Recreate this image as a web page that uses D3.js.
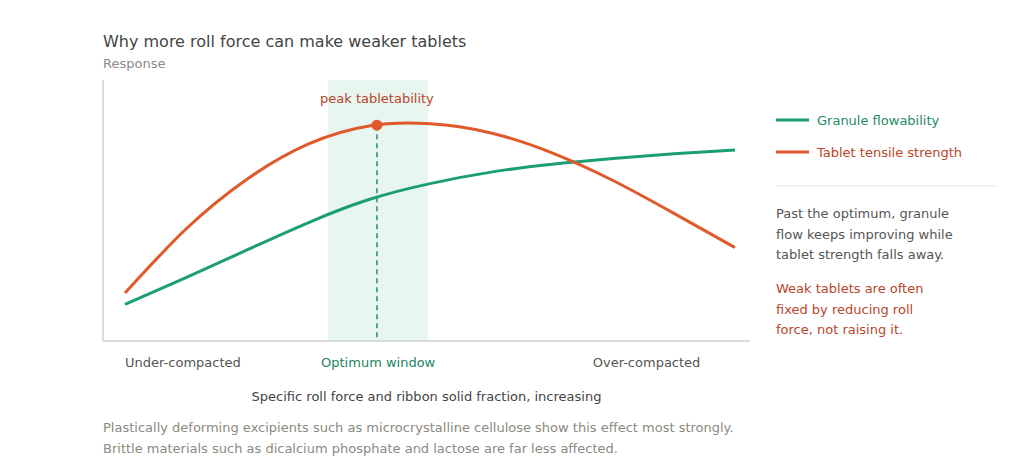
<!DOCTYPE html>
<html>
<head>
<meta charset="utf-8">
<script src="https://cdn.jsdelivr.net/npm/d3@7"></script>
<style>
  body { margin: 0; background: #fff; font-family: "DejaVu Sans", sans-serif; }
</style>
</head>
<body>
<div id="chart"></div>
<script>
var width = 1024, height = 471;

// x runs 0..10 (increasing roll force), y is relative response 0..100
var xs = [0, 1, 2, 3, 4, 5, 6, 7, 8, 9, 10];
var flowability = [14.0, 24.3, 34.9, 45.3, 54.2, 60.3, 64.7, 67.7, 69.9, 71.7, 73.2];
var tensile = [18.4, 42.9, 62.0, 75.4, 82.4, 83.2, 79.7, 72.1, 61.5, 48.9, 35.8];
var seriesNames = ["Granule flowability", "Tablet tensile strength"];
var windowRange = [3.33, 4.97];
var peak = [4.13, 82.7];
var zoneLabels = ["Under-compacted", "Optimum window", "Over-compacted"];
var zonePos = [0.95, 4.15, 8.55];
var noteGrey = ["Past the optimum, granule", "flow keeps improving while", "tablet strength falls away."];
var noteRed = ["Weak tablets are often", "fixed by reducing roll", "force, not raising it."];
var footnote = ["Plastically deforming excipients such as microcrystalline cellulose show this effect most strongly.",
  "Brittle materials such as dicalcium phosphate and lactose are far less affected."];

var green = "#1b9e77", orange = "#e0592a", redText = "#b8452a";

var svg = d3.select("#chart").append("svg")
  .attr("width", width)
  .attr("height", height);

var x = d3.scaleLinear().domain([0, 10]).range([125, 735]);
var y = d3.scaleLinear().domain([0, 100]).range([341, 80]);

// title
svg.append("text").attr("x", 103).attr("y", 47)
  .attr("font-size", 16).attr("fill", "#444")
  .text("Why more roll force can make weaker tablets");
svg.append("text").attr("x", 103).attr("y", 68)
  .attr("font-size", 13).attr("fill", "#8a8a8a")
  .text("Response");

// optimum window
svg.append("rect")
  .attr("x", x(windowRange[0])).attr("y", y(100))
  .attr("width", x(windowRange[1]) - x(windowRange[0]))
  .attr("height", y(0) - y(100))
  .attr("fill", "#e8f6f0");

// axes frame
svg.append("line").attr("x1", 103).attr("x2", 103).attr("y1", y(100)).attr("y2", y(0))
  .attr("stroke", "#cfcfcf").attr("stroke-width", 1.5);
svg.append("line").attr("x1", 103).attr("x2", 750).attr("y1", y(0)).attr("y2", y(0))
  .attr("stroke", "#cfcfcf").attr("stroke-width", 1.5);

// dashed marker at peak
svg.append("line")
  .attr("x1", x(peak[0])).attr("x2", x(peak[0]))
  .attr("y1", y(peak[1])).attr("y2", y(0))
  .attr("stroke", "#2f8a68").attr("stroke-width", 1.5)
  .attr("stroke-dasharray", "5,4");

var line = d3.line()
  .x(function(d) { return x(d[0]); })
  .y(function(d) { return y(d[1]); })
  .curve(d3.curveNatural);

svg.append("path")
  .datum(d3.zip(xs, flowability))
  .attr("d", line)
  .attr("fill", "none").attr("stroke", green).attr("stroke-width", 3);

svg.append("path")
  .datum(d3.zip(xs, tensile))
  .attr("d", line)
  .attr("fill", "none").attr("stroke", orange).attr("stroke-width", 3);

svg.append("circle")
  .attr("cx", x(peak[0])).attr("cy", y(peak[1])).attr("r", 5.5)
  .attr("fill", orange);

svg.append("text")
  .attr("x", x(peak[0])).attr("y", 103)
  .attr("text-anchor", "middle")
  .attr("font-size", 13).attr("fill", redText)
  .text("peak tabletability");

// zone labels under axis
svg.selectAll(".zone")
  .data(zoneLabels).enter()
  .append("text")
  .attr("class", "zone")
  .attr("x", function(d, i) { return x(zonePos[i]); })
  .attr("y", 367)
  .attr("text-anchor", "middle")
  .attr("font-size", 13)
  .attr("fill", function(d, i) { return i == 1 ? "#22855f" : "#555"; })
  .text(function(d) { return d; });

svg.append("text")
  .attr("x", 426.5).attr("y", 401)
  .attr("text-anchor", "middle")
  .attr("font-size", 13).attr("fill", "#444")
  .text("Specific roll force and ribbon solid fraction, increasing");

// legend
var legendColors = [green, orange];
var legendText = ["#1f8a65", redText];
var lg = svg.selectAll(".legend")
  .data(seriesNames).enter()
  .append("g")
  .attr("class", "legend")
  .attr("transform", function(d, i) { return "translate(776," + (120 + i * 32) + ")"; });
lg.append("line").attr("x1", 0).attr("x2", 33).attr("y1", 0).attr("y2", 0)
  .attr("stroke", function(d, i) { return legendColors[i]; })
  .attr("stroke-width", 3);
lg.append("text").attr("x", 41).attr("y", 5)
  .attr("font-size", 13)
  .attr("fill", function(d, i) { return legendText[i]; })
  .text(function(d) { return d; });

svg.append("line").attr("x1", 776).attr("x2", 997).attr("y1", 186).attr("y2", 186)
  .attr("stroke", "#e3e3e3").attr("stroke-width", 1);

svg.selectAll(".noteg")
  .data(noteGrey).enter()
  .append("text").attr("class", "noteg")
  .attr("x", 776).attr("y", function(d, i) { return 218 + i * 20.7; })
  .attr("font-size", 13).attr("fill", "#555")
  .text(function(d) { return d; });

svg.selectAll(".noter")
  .data(noteRed).enter()
  .append("text").attr("class", "noter")
  .attr("x", 776).attr("y", function(d, i) { return 293 + i * 20.7; })
  .attr("font-size", 13).attr("fill", redText)
  .text(function(d) { return d; });

svg.selectAll(".foot")
  .data(footnote).enter()
  .append("text").attr("class", "foot")
  .attr("x", 103).attr("y", function(d, i) { return 432 + i * 20.5; })
  .attr("font-size", 13).attr("fill", "#8a8a80")
  .text(function(d) { return d; });
</script>
</body>
</html>
